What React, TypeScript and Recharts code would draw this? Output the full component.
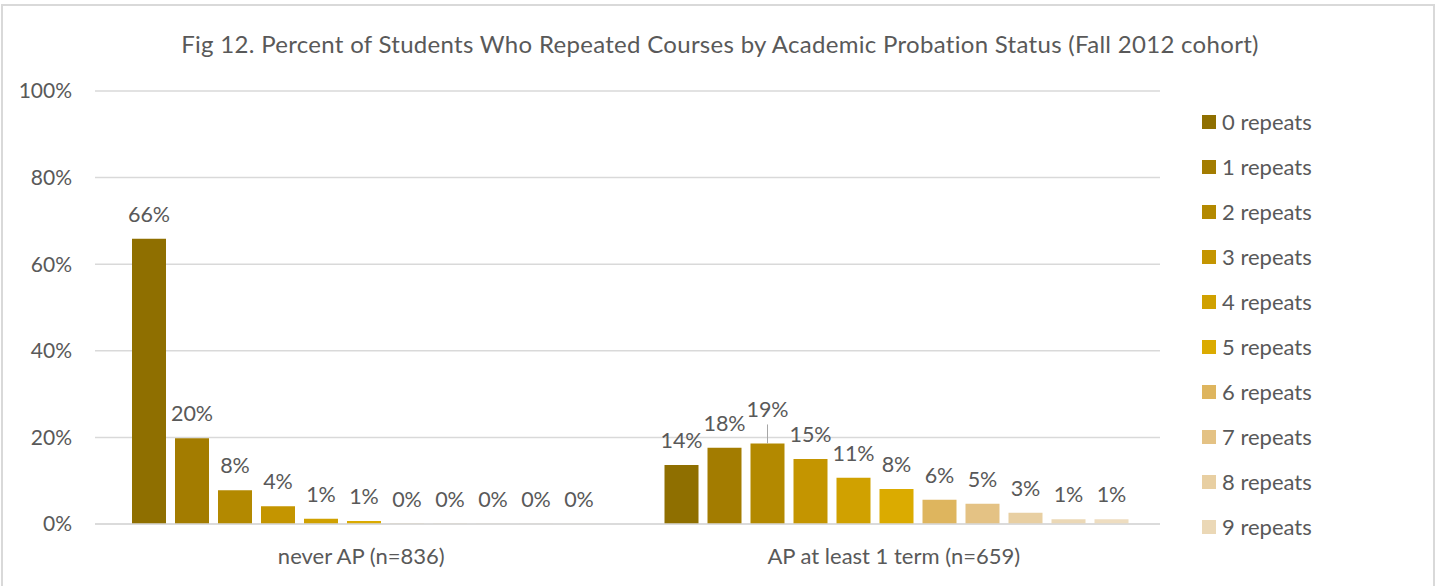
import React from 'react'
import { Bar, BarChart, CartesianGrid, LabelList, XAxis, YAxis } from 'recharts'

const categories = ['never AP (n=836)', 'AP at least 1 term (n=659)']
const repeatNames = ['0 repeats', '1 repeats', '2 repeats', '3 repeats', '4 repeats', '5 repeats', '6 repeats', '7 repeats', '8 repeats', '9 repeats', '10 repeats']
const neverAP = [65.9, 19.8, 7.8, 4.1, 1.2, 0.7, 0.05, 0.05, 0.05, 0.05, 0.05]
const apAtLeastOnce = [13.6, 17.6, 18.6, 15.0, 10.7, 8.1, 5.6, 4.7, 2.6, 1.1, 1.1]
const yTicks = [0, 20, 40, 60, 80, 100]

const colors = ['#8f6f00', '#a37c00', '#b38900', '#c49500', '#d0a100', '#dbab00', '#deb55e', '#e4c284', '#e8cfa2', '#ebd8b6', '#eeddc0']

const seriesValues = [neverAP, apAtLeastOnce]
const data = categories.map((name, i) => {
  const row: any = { name }
  repeatNames.forEach((_, k) => {
    row['r' + k] = seriesValues[i][k]
  })
  return row
})

const FONT = 'Lato, "Open Sans", sans-serif'
const TEXT = '#595959'

const renderLabel = (seriesIdx: number) => (props: any) => {
  const { x, y, width, value, index } = props
  const cx = x + width / 2
  // Excel nudged this one label up and drew a leader line
  const lifted = seriesIdx === 2 && index === 1
  const base = y - (lifted ? 26 : 17)
  return (
    <g>
      {lifted && <line x1={cx} x2={cx} y1={y} y2={y - 19} stroke="#a6a6a6" strokeWidth={1} />}
      <text x={cx} y={base} textAnchor="middle" fill={TEXT} fontSize={21.5} fontFamily={FONT}>
        {Math.round(value) + '%'}
      </text>
    </g>
  )
}

// Excel only fits the first ten legend entries in the frame
const legendItems = repeatNames.slice(0, 10)

export default function App() {
  return (
    <div style={{ position: 'absolute', left: 0, top: 0, width: 1437, height: 586, background: '#fff', overflow: 'hidden' }}>
      <div style={{ position: 'absolute', left: 1, top: 4, width: 1434, height: 600, border: '2px solid #d9d9d9', boxSizing: 'border-box' }} />
      <div style={{ position: 'absolute', left: 0, top: 29, width: 1440, textAlign: 'center', color: TEXT, fontSize: 24, letterSpacing: 0.3, fontFamily: FONT, whiteSpace: 'nowrap' }}>
        Fig 12. Percent of Students Who Repeated Courses by Academic Probation Status (Fall 2012 cohort)
      </div>
      <div style={{ position: 'absolute', left: 0, top: 0 }}>
        <BarChart
          width={1437}
          height={586}
          data={data}
          margin={{ top: 91, right: 277, bottom: 0, left: 0 }}
          barCategoryGap={37}
          barGap={9}
        >
          <CartesianGrid vertical={false} stroke="#d9d9d9" strokeWidth={1.5} />
          <XAxis
            dataKey="name"
            axisLine={{ stroke: '#d9d9d9', strokeWidth: 1.5 }}
            tickLine={false}
            tickMargin={18}
            height={62}
            tick={{ fill: TEXT, fontSize: 22, fontFamily: FONT }}
          />
          <YAxis
            domain={[0, 100]}
            ticks={yTicks}
            width={95}
            axisLine={false}
            tickLine={false}
            tickMargin={17}
            tickFormatter={(v) => `${v}%`}
            tick={{ fill: TEXT, fontSize: 21, fontFamily: FONT }}
          />
          {repeatNames.map((n, k) => (
            <Bar key={n} dataKey={'r' + k} name={n} fill={colors[k]} isAnimationActive={false}>
              <LabelList dataKey={'r' + k} content={renderLabel(k)} />
            </Bar>
          ))}
        </BarChart>
      </div>
      <div style={{ position: 'absolute', left: 1202, top: 99 }}>
        {legendItems.map((n, k) => (
          <div key={n} style={{ display: 'flex', alignItems: 'center', height: 45 }}>
            <span style={{ width: 14, height: 14, background: colors[k], display: 'inline-block', marginRight: 6 }} />
            <span style={{ color: TEXT, fontSize: 22, fontFamily: FONT }}>{n}</span>
          </div>
        ))}
      </div>
    </div>
  )
}
